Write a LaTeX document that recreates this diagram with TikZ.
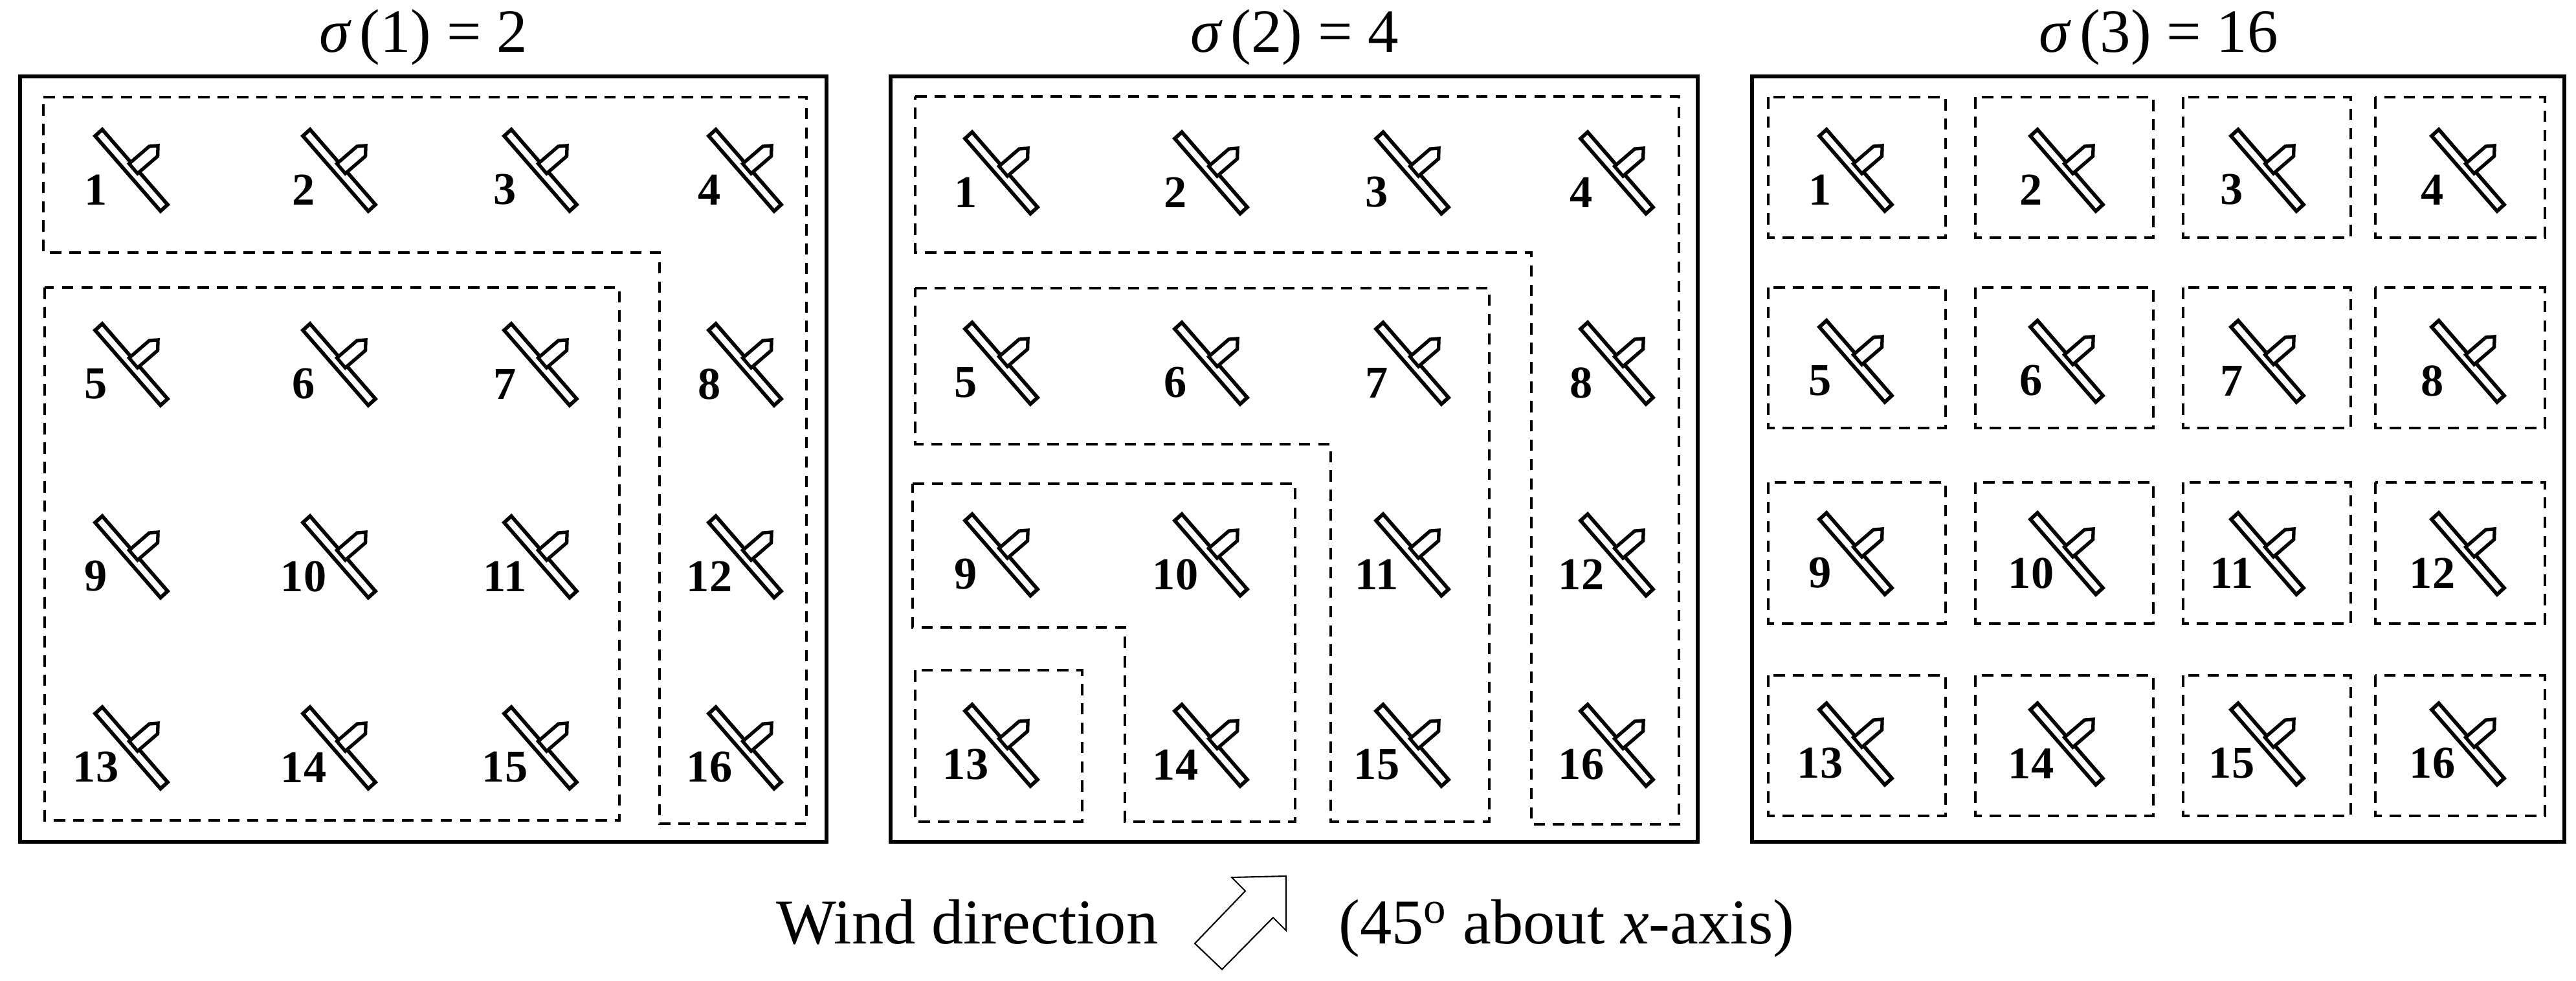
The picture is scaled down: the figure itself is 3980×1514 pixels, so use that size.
\documentclass[tikz,border=0pt]{standalone}
\usepackage{fontspec}
\setmainfont{Liberation Serif}

\tikzset{
  panel/.style={line width=1.5pt},
  group/.style={line width=1.3pt, dash pattern=on 5pt off 3.5pt},
  lbl/.style={font=\fontsize{20}{20}\selectfont\bfseries, inner sep=0pt},
  ttl/.style={font=\fontsize{27}{27}\selectfont, inner sep=0pt},
  note/.style={font=\fontsize{28}{28}\selectfont, inner sep=0pt},
  turbine/.pic={
    \draw[line width=1.6pt, fill=white] (56,53) -- (45,63) -- (-56,-53) -- (-45,-63) -- cycle;
    \draw[line width=1.5pt, fill=white] (-3.5,-10.2) -- (27.6,-37) -- (41.1,-38.1) -- (40.6,-21.8) -- (9.5,5) -- cycle;
    \node[lbl] at (-55,30) {#1};
  }
}

\begin{document}
\begin{tikzpicture}[x=0.01cm, y=-0.01cm]
  \useasboundingbox (0,0) rectangle (3980,1514);

  % panels and titles
  \draw[panel] (31,118) rectangle (1277,1300);
  \draw[panel] (1376,118) rectangle (2623,1300);
  \draw[panel] (2707,118) rectangle (3962,1300);
  \node[ttl] (t1) at (654,58) {{\itshape σ}\,(1) = 2};
  \node[ttl] (t2) at (2000,58) {{\itshape σ}\,(2) = 4};
  \node[ttl] (t3) at (3335,58) {{\itshape σ}\,(3) = 16};

  % turbines
  \foreach \cx [count=\c] in {203,524,835,1151}
    \foreach \cy [count=\r] in {263,563,860,1155} {
      \pgfmathtruncatemacro\n{(\r-1)*4+\c}
      \pic at (\cx,\cy) {turbine=\n};
    }
  \foreach \cx [count=\c] in {1547,1871,2182,2498}
    \foreach \cy [count=\r] in {267,561,857,1151} {
      \pgfmathtruncatemacro\n{(\r-1)*4+\c}
      \pic at (\cx,\cy) {turbine=\n};
    }
  \foreach \cx [count=\c] in {2867,3193,3503,3813}
    \foreach \cy [count=\r] in {263,558,855,1149} {
      \pgfmathtruncatemacro\n{(\r-1)*4+\c}
      \pic at (\cx,\cy) {turbine=\n};
    }

  % groups, sigma(1)
  \draw[group] (67,150) -- (1246,150) -- (1246,1272) -- (1019,1272) -- (1019,390) -- (67,390) -- cycle;
  \draw[group] (69,444) rectangle (957,1267);

  % groups, sigma(2)
  \draw[group] (1414,149) -- (2594,149) -- (2594,1273) -- (2366,1273) -- (2366,390) -- (1414,390) -- cycle;
  \draw[group] (1414,445) -- (2301,445) -- (2301,1269) -- (2056,1269) -- (2056,686) -- (1414,686) -- cycle;
  \draw[group] (1410,747) -- (2001,747) -- (2001,1269) -- (1738,1269) -- (1738,969) -- (1410,969) -- cycle;
  \draw[group] (1414,1035) rectangle (1672,1269);

  % groups, sigma(3)
  \foreach \xa/\xb in {2732/3006,3052/3327,3373/3632,3670/3932}
    \foreach \ya/\yb in {150/367,444/661,745/963,1043/1260}
      \draw[group] (\xa,\ya) rectangle (\xb,\yb);

  % wind direction
  \node[note, anchor=base east] (wind) at (1790,1457) {Wind direction};
  \draw[line width=0.6pt] (1846,1457) -- (1924,1376) -- (1903,1355) -- (1987,1353)
    -- (1987,1437) -- (1967,1417) -- (1888,1497) -- cycle;
  \node[note, anchor=base west] (angle) at (2068,1457) {(45\textsuperscript{o} about \textit{x}-axis)};
\end{tikzpicture}
\end{document}
